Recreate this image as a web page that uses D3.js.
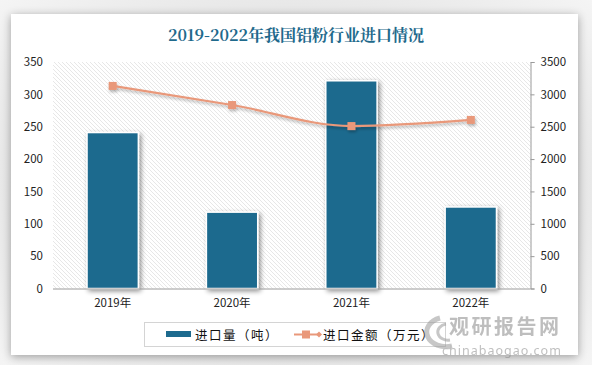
<!DOCTYPE html>
<html><head><meta charset="utf-8">
<script src="https://cdn.jsdelivr.net/npm/d3@7"></script>
<style>
html,body{margin:0;padding:0;background:#fff;}
svg{display:block;font-family:"Noto Sans","DejaVu Sans",sans-serif;}
</style></head>
<body>
<svg id="c" width="592" height="365"></svg>
<script>
const titleText = "2019-2022年我国铝粉行业进口情况";
const categories = ["2019年","2020年","2021年","2022年"];
const volumeName = "进口量（吨）";
const amountName = "进口金额（万元）";
const volumeValues = [241, 118, 321, 126];
const amountValues = [3130, 2835, 2510, 2605];
const leftTicks = [0,50,100,150,200,250,300,350];
const rightTicks = [0,500,1000,1500,2000,2500,3000,3500];

const svg = d3.select("#c");
const defs = svg.append("defs");

const bg = defs.append("radialGradient").attr("id","bgG").attr("cx","50%").attr("cy","50%").attr("r","75%");
bg.append("stop").attr("offset","60%").attr("stop-color","#e6e6e6");
bg.append("stop").attr("offset","100%").attr("stop-color","#f7f7f7");
const cardSh = defs.append("filter").attr("id","cardSh").attr("x","-10%").attr("y","-10%").attr("width","120%").attr("height","120%");
cardSh.append("feGaussianBlur").attr("in","SourceAlpha").attr("stdDeviation",5);
cardSh.append("feOffset").attr("dx",0).attr("dy",2).attr("result","b");
cardSh.append("feComponentTransfer").append("feFuncA").attr("type","linear").attr("slope",0.35);
const m1 = cardSh.append("feMerge"); m1.append("feMergeNode"); m1.append("feMergeNode").attr("in","SourceGraphic");

const barSh = defs.append("filter").attr("id","barSh").attr("x","-20%").attr("y","-20%").attr("width","150%").attr("height","150%");
barSh.append("feGaussianBlur").attr("in","SourceAlpha").attr("stdDeviation",2.5);
barSh.append("feOffset").attr("dx",2).attr("dy",2).attr("result","b");
barSh.append("feComponentTransfer").append("feFuncA").attr("type","linear").attr("slope",0.45);
const m2 = barSh.append("feMerge"); m2.append("feMergeNode"); m2.append("feMergeNode").attr("in","SourceGraphic");

const lineSh = defs.append("filter").attr("id","lineSh").attr("x","-10%").attr("y","-50%").attr("width","120%").attr("height","200%");
lineSh.append("feGaussianBlur").attr("in","SourceAlpha").attr("stdDeviation",1.5);
lineSh.append("feOffset").attr("dx",1).attr("dy",2).attr("result","b");
lineSh.append("feComponentTransfer").append("feFuncA").attr("type","linear").attr("slope",0.3);
const m3 = lineSh.append("feMerge"); m3.append("feMergeNode"); m3.append("feMergeNode").attr("in","SourceGraphic");

const pat = defs.append("pattern").attr("id","hatch").attr("patternUnits","userSpaceOnUse").attr("width",4).attr("height",4);
pat.append("rect").attr("width",4).attr("height",4).attr("fill","#ffffff");
pat.append("path").attr("d","M-1,-1 L5,5 M-1,3 L1,5 M3,-1 L5,1").attr("stroke","#dcdcdc").attr("stroke-width",0.7);

svg.append("rect").attr("width",592).attr("height",365).attr("fill","url(#bgG)");
svg.append("rect").attr("x",11).attr("y",14).attr("width",567).attr("height",341).attr("fill","#fff").attr("filter","url(#cardSh)");

svg.append("text").attr("x",296).attr("y",41).attr("text-anchor","middle")
  .attr("font-size",16).attr("font-weight","bold").attr("fill","#1f6a8c")
  .attr("font-family","'Noto Serif CJK SC','Noto Sans CJK SC',serif").text(titleText);

const L = 53, R = 530.5, T = 62, B = 288.5;
const x = d3.scaleBand().domain(categories).range([L,R]).paddingInner(0.57).paddingOuter(0.285);
const yL = d3.scaleLinear().domain([0,350]).range([B,T]);
const yR = d3.scaleLinear().domain([0,3500]).range([B,T]);

svg.append("rect").attr("x",L).attr("y",T).attr("width",R-L).attr("height",B-T).attr("fill","url(#hatch)");

svg.append("g").selectAll("rect").data(volumeValues).join("rect")
  .attr("x",(d,i)=>x(categories[i])).attr("width",x.bandwidth())
  .attr("y",d=>yL(d)).attr("height",d=>B-yL(d))
  .attr("fill","#1d6a8e").attr("stroke","#fff").attr("stroke-width",1.5).attr("filter","url(#barSh)");

const axL = svg.append("g").attr("transform",`translate(${L},0)`)
  .call(d3.axisLeft(yL).tickValues(leftTicks).tickSize(0).tickPadding(10).tickFormat(d3.format("d")));
axL.select(".domain").remove();
const axR = svg.append("g").attr("transform",`translate(${R},0)`)
  .call(d3.axisRight(yR).tickValues(rightTicks).tickSize(4).tickPadding(6).tickFormat(d3.format("d")));
axR.select(".domain").attr("stroke","#9a9a9a");
axR.selectAll(".tick line").attr("stroke","#9a9a9a");
const axB = svg.append("g").attr("transform",`translate(0,${B})`)
  .call(d3.axisBottom(x).tickSize(0).tickPadding(10));
axB.select(".domain").attr("stroke","#9a9a9a").attr("d",`M${L},0.5H${R}`);
svg.selectAll(".tick text").attr("font-size",11.5).attr("fill","#222")
  .attr("font-family","'Noto Sans CJK SC','Noto Sans',sans-serif");

const lineColor = "#e9987a";
const pts = amountValues.map((v,i)=>[x(categories[i])+x.bandwidth()/2, yR(v)]);
const lg = svg.append("g").attr("filter","url(#lineSh)");
lg.append("path").attr("d",d3.line().curve(d3.curveMonotoneX)(pts)).attr("fill","none")
  .attr("stroke",lineColor).attr("stroke-width",2.2);
lg.selectAll("rect").data(pts).join("rect")
  .attr("x",d=>d[0]-4).attr("y",d=>d[1]-4).attr("width",8).attr("height",8).attr("fill",lineColor);

const lgd = svg.append("g");
lgd.append("rect").attr("x",144.5).attr("y",322.5).attr("width",301).attr("height",24).attr("fill","#fff").attr("stroke","#d4d4d4");
lgd.append("rect").attr("x",166).attr("y",331).attr("width",25).attr("height",6).attr("fill","#1d6a8e");
lgd.append("text").attr("x",195).attr("y",339.5).attr("font-size",12.5).attr("fill","#111")
  .attr("font-family","'Noto Sans CJK SC',sans-serif").attr("letter-spacing",1.5).text(volumeName);
lgd.append("line").attr("x1",294).attr("x2",319).attr("y1",334.5).attr("y2",334.5).attr("stroke",lineColor).attr("stroke-width",2);
lgd.append("rect").attr("x",302).attr("y",330.5).attr("width",8).attr("height",8).attr("fill",lineColor);
lgd.append("path").attr("d","M319,331.5 L322,334.5 L319,337.5 L316,334.5Z").attr("fill",lineColor);
lgd.append("text").attr("x",323).attr("y",339.5).attr("font-size",12.5).attr("fill","#111")
  .attr("font-family","'Noto Sans CJK SC',sans-serif").attr("letter-spacing",1.5).text(amountName);

const wm = svg.append("g").attr("opacity",0.55);
wm.append("path").attr("d","M440,318 A17,13 0 1 0 452,346").attr("fill","none").attr("stroke","#9a9a9a").attr("stroke-width",5);
wm.append("path").attr("d","M446,324 A10,8 0 1 0 450,340").attr("fill","none").attr("stroke","#9a9a9a").attr("stroke-width",3);
wm.append("text").attr("x",449).attr("y",334).attr("font-size",20).attr("font-weight","bold").attr("fill","#8a8a8a")
  .attr("font-family","'Noto Sans CJK SC',sans-serif").attr("letter-spacing",2.5).text("观研报告网");
wm.append("text").attr("x",442).attr("y",355).attr("font-size",12.5).attr("fill","#8a8a8a")
  .attr("font-family","'Noto Sans',sans-serif").attr("letter-spacing",1).text("chinabaogao.com");
</script>
</body></html>
